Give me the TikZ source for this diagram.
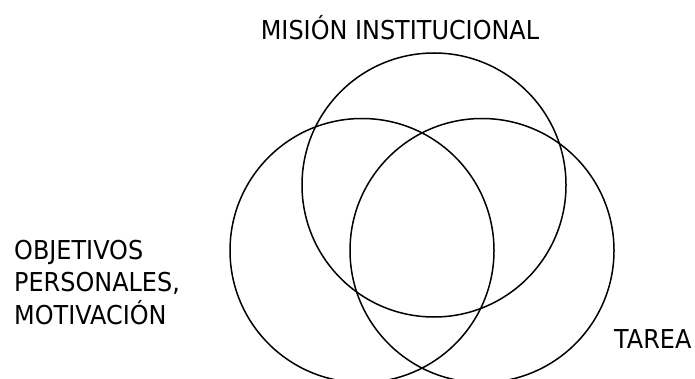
\documentclass[tikz,border=0pt]{standalone}
\usepackage{fontspec}
\setmainfont{DejaVu Sans}[FakeStretch=0.92]
\usetikzlibrary{positioning}

\begin{document}
\begin{tikzpicture}[
  x=1pt, y=-1pt,
  font=\fontsize{26}{32.5}\selectfont,
  ring/.style={draw, circle, line width=1.5pt, inner sep=0pt, minimum size=264pt},
  lbl/.style={inner sep=0pt, align=left}
]
\useasboundingbox (0,0) rectangle (695,379);

% ----- the three rings
\node[ring] (mision) at (434,185) {};
\node[ring] (personal) at (362,250.5) {};
\node[ring] (tarea) at (482,250.5) {};

% ----- labels
\node[lbl, anchor=base] (lmision) at (400,40) {MISIÓN INSTITUCIONAL};
\node[lbl, anchor=north west] (lpersonal) at (14,240) {OBJETIVOS\\PERSONALES,\\MOTIVACIÓN};
\node[lbl, anchor=base west] (ltarea) at (614,348) {TAREA};

\end{tikzpicture}
\end{document}
